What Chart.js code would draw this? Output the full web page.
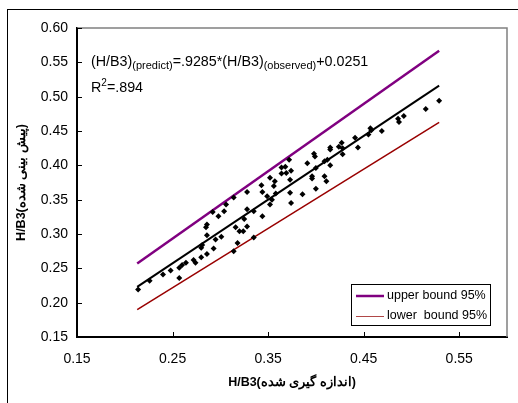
<!DOCTYPE html>
<html>
<head>
<meta charset="utf-8">
<script src="https://cdn.jsdelivr.net/npm/chart.js@4.4.0/dist/chart.umd.min.js"></script>
<style>
  html, body { margin: 0; padding: 0; background: #fff; }
</style>
</head>
<body>
<canvas id="myChart" width="518" height="403"></canvas>
<script>
// tick labels
var xTicks = [0.15, 0.25, 0.35, 0.45, 0.55];
var yTicks = [0.15, 0.20, 0.25, 0.30, 0.35, 0.40, 0.45, 0.50, 0.55, 0.60];

var observed = [0.214, 0.226, 0.240, 0.248, 0.257, 0.257, 0.260, 0.264, 0.272, 0.274,
  0.280, 0.286, 0.280, 0.281, 0.293, 0.286, 0.295, 0.301, 0.285, 0.286,
  0.292, 0.298, 0.304, 0.306, 0.314, 0.316, 0.320, 0.324, 0.318, 0.314,
  0.325, 0.328, 0.343, 0.344, 0.349, 0.352, 0.356, 0.357, 0.358, 0.354,
  0.352, 0.364, 0.368, 0.364, 0.369, 0.372, 0.374, 0.373, 0.373, 0.374,
  0.386, 0.391, 0.398, 0.399, 0.400, 0.396, 0.396, 0.400, 0.409, 0.412,
  0.415, 0.409, 0.411, 0.415, 0.415, 0.328, 0.335, 0.344, 0.328, 0.335,
  0.424, 0.427, 0.428, 0.428, 0.441, 0.444, 0.455, 0.457, 0.458, 0.469,
  0.486, 0.487, 0.492, 0.515, 0.529];
var predicted = [0.219, 0.232, 0.241, 0.247, 0.236, 0.251, 0.255, 0.258, 0.262, 0.258,
  0.266, 0.271, 0.280, 0.284, 0.279, 0.298, 0.292, 0.296, 0.310, 0.314,
  0.332, 0.326, 0.333, 0.343, 0.353, 0.310, 0.304, 0.304, 0.287, 0.275,
  0.322, 0.361, 0.371, 0.361, 0.355, 0.382, 0.370, 0.377, 0.359, 0.350,
  0.343, 0.397, 0.398, 0.388, 0.389, 0.408, 0.392, 0.379, 0.360, 0.345,
  0.358, 0.403, 0.417, 0.413, 0.396, 0.384, 0.381, 0.366, 0.406, 0.408,
  0.400, 0.384, 0.377, 0.426, 0.423, 0.336, 0.333, 0.326, 0.311, 0.295,
  0.427, 0.433, 0.425, 0.416, 0.440, 0.426, 0.445, 0.454, 0.451, 0.450,
  0.468, 0.463, 0.472, 0.482, 0.494];

// end points of the three lines
var lineX = [0.213, 0.529];
var fitY = [0.223, 0.516];
var upperY = [0.257, 0.567];
var lowerY = [0.190, 0.4625];

function toXY(xs, ys) {
  return xs.map(function (v, i) { return { x: v, y: ys[i] }; });
}

// background + outer frame, plot box, inward ticks, equation, legend
const extras = {
  id: "extras",
  beforeDraw(chart) {
    const ctx = chart.ctx;
    ctx.save();
    ctx.fillStyle = "#fff";
    ctx.fillRect(0, 0, chart.width, chart.height);
    ctx.strokeStyle = "#000";
    ctx.lineWidth = 1;
    ctx.strokeRect(7.5, 9.5, 600, 500);
    ctx.restore();
  },
  afterDraw(chart) {
    const ctx = chart.ctx;
    const a = chart.chartArea;
    const sx = chart.scales.x, sy = chart.scales.y;
    ctx.save();
    ctx.strokeStyle = "#808080";
    ctx.lineWidth = 1.5;
    ctx.beginPath();
    ctx.moveTo(a.left, a.top);
    ctx.lineTo(a.right, a.top);
    ctx.lineTo(a.right, a.bottom);
    ctx.stroke();

    ctx.strokeStyle = "#000";
    ctx.lineWidth = 1;
    ctx.beginPath();
    xTicks.forEach(function (v) {
      const px = Math.round(sx.getPixelForValue(v)) + 0.5;
      ctx.moveTo(px, a.bottom);
      ctx.lineTo(px, a.bottom - 5);
    });
    yTicks.forEach(function (v) {
      const py = Math.round(sy.getPixelForValue(v)) + 0.5;
      ctx.moveTo(a.left, py);
      ctx.lineTo(a.left + 5, py);
    });
    ctx.stroke();

    // equation text
    ctx.fillStyle = "#000";
    ctx.textBaseline = "alphabetic";
    ctx.textAlign = "left";
    let x = 91;
    const base = 66;
    const parts = [
      ["(H/B3)", 14.3, 0], ["(predict)", 11, 3], ["=.9285*(H/B3)", 14.3, 0],
      ["(observed)", 11, 3], ["+0.0251", 14.3, 0]
    ];
    parts.forEach(function (p) {
      ctx.font = p[1] + "px 'Liberation Sans', Arial, sans-serif";
      ctx.fillText(p[0], x, base + p[2]);
      x += ctx.measureText(p[0]).width;
    });
    x = 91;
    ctx.font = "14.3px 'Liberation Sans', Arial, sans-serif";
    ctx.fillText("R", x, 92);
    x += ctx.measureText("R").width;
    ctx.font = "10px 'Liberation Sans', Arial, sans-serif";
    ctx.fillText("2", x, 86);
    x += ctx.measureText("2").width;
    ctx.font = "14.3px 'Liberation Sans', Arial, sans-serif";
    ctx.fillText("=.894", x, 92);

    // legend box
    ctx.lineWidth = 1;
    ctx.strokeStyle = "#000";
    ctx.strokeRect(351.5, 284.5, 139, 41);
    ctx.beginPath();
    ctx.strokeStyle = "#800080";
    ctx.lineWidth = 2.5;
    ctx.moveTo(356, 296);
    ctx.lineTo(384, 296);
    ctx.stroke();
    ctx.beginPath();
    ctx.strokeStyle = "#b04848";
    ctx.lineWidth = 1;
    ctx.moveTo(356, 316.5);
    ctx.lineTo(384, 316.5);
    ctx.stroke();
    ctx.font = "12.5px 'Liberation Sans', Arial, sans-serif";
    ctx.textBaseline = "middle";
    ctx.fillText("upper bound 95%", 387, 296);
    ctx.fillText("lower  bound 95%", 387, 316);
    ctx.restore();
  }
};

const data = {
  datasets: [
    {
      label: "observed",
      data: toXY(observed, predicted),
      pointStyle: "rectRot",
      pointRadius: 3,
      backgroundColor: "#000",
      borderColor: "#000",
      borderWidth: 0,
      order: 0
    },
    {
      label: "fit",
      data: toXY(lineX, fitY),
      showLine: true,
      pointRadius: 0,
      borderColor: "#000",
      borderWidth: 2,
      order: 1
    },
    {
      label: "upper bound 95%",
      data: toXY(lineX, upperY),
      showLine: true,
      pointRadius: 0,
      borderColor: "#800080",
      borderWidth: 2.5,
      order: 2
    },
    {
      label: "lower  bound 95%",
      data: toXY(lineX, lowerY),
      showLine: true,
      pointRadius: 0,
      borderColor: "#990000",
      borderWidth: 1.5,
      order: 3
    }
  ]
};

const tickFont = { family: "'Liberation Sans', Arial, sans-serif", size: 14 };
const titleFont = { family: "'Liberation Sans', Arial, sans-serif", size: 12.5, weight: "bold" };

const config = {
  type: "scatter",
  data,
  options: {
    responsive: false,
    animation: false,
    layout: { padding: { left: 0, top: 28, right: 11, bottom: 0 } },
    plugins: { legend: { display: false }, tooltip: { enabled: false } },
    scales: {
      x: {
        type: "linear",
        min: 0.15,
        max: 0.60,
        afterBuildTicks(s) { s.ticks = xTicks.map(function (v) { return { value: v }; }); },
        afterFit(s) { s.height = 66; },
        ticks: {
          color: "#000",
          font: tickFont,
          padding: 14,
          maxRotation: 0,
          callback: function (v) { return v.toFixed(2); }
        },
        grid: { drawOnChartArea: false, drawTicks: false },
        border: { color: "#000", width: 2 },
        title: {
          display: true,
          text: "H/B3(اندازه گیری شده)",
          color: "#000",
          font: titleFont,
          padding: { top: 0, bottom: 12.5 }
        }
      },
      y: {
        type: "linear",
        min: 0.15,
        max: 0.60,
        afterBuildTicks(s) { s.ticks = yTicks.map(function (v) { return { value: v }; }); },
        afterFit(s) { s.width = 77; },
        ticks: {
          color: "#000",
          font: tickFont,
          padding: 9,
          callback: function (v) { return v.toFixed(2); }
        },
        grid: { drawOnChartArea: false, drawTicks: false },
        border: { color: "#000", width: 2 },
        title: {
          display: true,
          text: "H/B3(پیش بینی شده)",
          color: "#000",
          font: titleFont,
          padding: { top: 14.5, bottom: 0 }
        }
      }
    }
  },
  plugins: [extras]
};

const myChart = new Chart(document.getElementById("myChart"), config);
</script>
</body>
</html>
